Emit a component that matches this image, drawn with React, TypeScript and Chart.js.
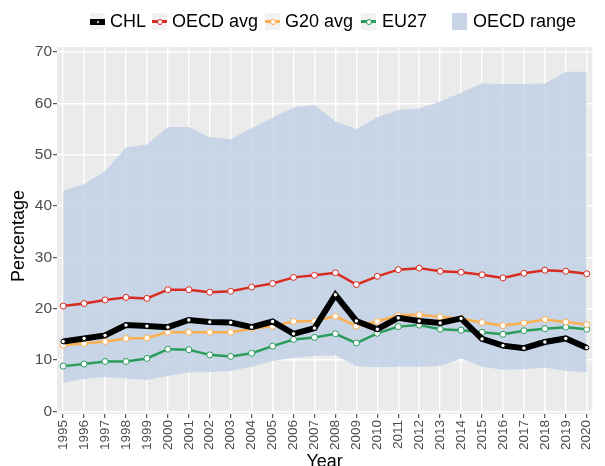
import React, { useEffect, useRef } from "react";
import { Chart, registerables } from "chart.js";

Chart.register(...registerables);

const years = [1995, 1996, 1997, 1998, 1999, 2000, 2001, 2002, 2003, 2004, 2005, 2006, 2007, 2008, 2009, 2010, 2011, 2012, 2013, 2014, 2015, 2016, 2017, 2018, 2019, 2020];
const chl = [13.6, 14.2, 14.8, 16.8, 16.6, 16.4, 17.8, 17.4, 17.3, 16.4, 17.5, 15.1, 16.2, 22.7, 17.6, 16.0, 18.2, 17.6, 17.2, 18.1, 14.1, 12.8, 12.3, 13.5, 14.2, 12.4];
const oecdAvg = [20.5, 21.0, 21.7, 22.2, 22.0, 23.7, 23.7, 23.2, 23.4, 24.2, 24.9, 26.1, 26.5, 27.0, 24.7, 26.3, 27.6, 27.9, 27.3, 27.1, 26.6, 26.0, 26.9, 27.5, 27.3, 26.8];
const g20Avg = [12.9, 13.2, 13.6, 14.2, 14.3, 15.4, 15.4, 15.4, 15.4, 16.1, 16.6, 17.5, 17.6, 18.5, 16.6, 17.5, 18.7, 18.8, 18.4, 18.1, 17.3, 16.7, 17.2, 17.9, 17.4, 16.9];
const eu27 = [8.8, 9.2, 9.7, 9.7, 10.3, 12.1, 12.0, 11.0, 10.7, 11.3, 12.7, 14.0, 14.4, 15.1, 13.3, 15.2, 16.5, 16.8, 16.0, 15.8, 15.4, 15.0, 15.7, 16.1, 16.4, 16.0];
const oecdMin = [5.6, 6.3, 6.7, 6.4, 6.1, 6.9, 7.6, 7.6, 7.9, 8.7, 9.8, 10.4, 10.8, 10.9, 8.8, 8.6, 8.7, 8.7, 8.8, 10.3, 8.7, 8.1, 8.2, 8.5, 7.9, 7.6];
const oecdMax = [43.0, 44.3, 46.8, 51.4, 52.0, 55.4, 55.4, 53.4, 53.0, 55.2, 57.2, 59.2, 59.7, 56.5, 55.0, 57.3, 58.7, 59.0, 60.4, 62.1, 63.9, 63.8, 63.8, 63.9, 66.2, 66.2];
const yTicks = [0, 10, 20, 30, 40, 50, 60, 70];

const seriesLabels = ["CHL", "OECD avg", "G20 avg", "EU27", "OECD range"];
const seriesColors = ["#000000", "#D92B20", "#FBAF4E", "#2A9D5C", "#C8D5E6"];
const xTitle = "Year";
const yTitle = "Percentage";

const FONT = "'Liberation Sans', Arial, Helvetica, sans-serif";

const pts = (vals: number[]) => years.map((x, i) => ({ x, y: vals[i] }));

const panelBg = {
  id: "panelBg",
  beforeDraw(chart: any) {
    const { ctx, chartArea } = chart;
    ctx.save();
    ctx.fillStyle = "#EBEBEB";
    ctx.fillRect(chartArea.left, chartArea.top, chartArea.right - chartArea.left, chartArea.bottom - chartArea.top);
    ctx.restore();
  },
};

const yTitlePlugin = {
  id: "yTitlePlugin",
  afterDraw(chart: any) {
    const { ctx } = chart;
    ctx.save();
    ctx.translate(19, 236);
    ctx.rotate(-Math.PI / 2);
    ctx.textAlign = "center";
    ctx.textBaseline = "middle";
    ctx.fillStyle = "#000000";
    ctx.font = `18px ${FONT}`;
    ctx.fillText(yTitle, 0, 0);
    ctx.restore();
  },
};

function LineKey({ color, thick }: { color: string; thick: boolean }) {
  return (
    <div style={{ position: "relative", width: 15, height: 17, background: "#F2F2F2" }}>
      <div
        style={{
          position: "absolute",
          left: 0,
          right: 0,
          top: thick ? 5.5 : 7.25,
          height: thick ? 6 : 2.5,
          background: color,
        }}
      />
      <div
        style={{
          position: "absolute",
          left: thick ? 5.5 : 4.5,
          top: thick ? 6.5 : 5.5,
          width: thick ? 4 : 6,
          height: thick ? 4 : 6,
          boxSizing: "border-box",
          borderRadius: "50%",
          background: "#FFFFFF",
          border: `1px solid ${color}`,
        }}
      />
    </div>
  );
}

export default function App() {
  const canvasRef = useRef<HTMLCanvasElement | null>(null);

  useEffect(() => {
    if (!canvasRef.current) return;
    const lineDs = (label: string, vals: number[], color: string, width: number, r: number) => ({
      label,
      data: pts(vals),
      borderColor: color,
      backgroundColor: "#FFFFFF",
      borderWidth: width,
      pointRadius: r,
      pointBorderColor: color,
      pointBackgroundColor: "#FFFFFF",
      pointBorderWidth: 1,
      tension: 0,
      fill: false,
    });
    const chart = new Chart(canvasRef.current, {
      type: "line",
      data: {
        datasets: [
          lineDs(seriesLabels[0], chl, seriesColors[0], 6, 2.2),
          lineDs(seriesLabels[1], oecdAvg, seriesColors[1], 2.5, 3),
          lineDs(seriesLabels[2], g20Avg, seriesColors[2], 2.5, 3),
          lineDs(seriesLabels[3], eu27, seriesColors[3], 2.5, 3),
          {
            label: "OECD range max",
            data: pts(oecdMax),
            borderWidth: 0,
            borderColor: "rgba(0,0,0,0)",
            pointRadius: 0,
            backgroundColor: "rgba(191,207,229,0.8)",
            fill: 5,
            tension: 0,
          },
          {
            label: "OECD range min",
            data: pts(oecdMin),
            borderWidth: 0,
            borderColor: "rgba(0,0,0,0)",
            pointRadius: 0,
            fill: false,
            tension: 0,
          },
        ],
      } as any,
      options: {
        animation: false,
        responsive: true,
        maintainAspectRatio: false,
        events: [],
        layout: { padding: { top: 47, right: 0, bottom: 0, left: 0 } },
        font: { family: FONT } as any,
        plugins: {
          legend: { display: false },
          tooltip: { enabled: false },
        },
        scales: {
          x: {
            type: "linear",
            min: 1994.706,
            max: 2020.266,
            afterBuildTicks: (s: any) => {
              s.ticks = years.map((v) => ({ value: v }));
            },
            afterFit: (s: any) => {
              s.height = 52;
            },
            ticks: {
              autoSkip: false,
              minRotation: 90,
              maxRotation: 90,
              padding: 2,
              color: "#4D4D4D",
              font: { family: FONT, size: 13.5 },
              callback: (v: any) => String(v),
            },
            grid: {
              color: "#FFFFFF",
              lineWidth: 1.4,
              drawTicks: true,
              tickLength: 4,
              tickColor: "#333333",
              tickWidth: 1,
            },
            border: { display: false },
            title: {
              display: true,
              text: xTitle,
              color: "#000000",
              font: { family: FONT, size: 18 },
              padding: { top: 0, bottom: -7 },
            },
          },
          y: {
            type: "linear",
            min: -0.53,
            max: 71,
            afterBuildTicks: (s: any) => {
              s.ticks = yTicks.map((v) => ({ value: v }));
            },
            afterFit: (s: any) => {
              s.width = 57;
            },
            ticks: {
              padding: 1,
              color: "#4D4D4D",
              font: { family: FONT, size: 15.5 },
              callback: (v: any) => String(v),
            },
            grid: {
              color: "#FFFFFF",
              lineWidth: 1.4,
              drawTicks: true,
              tickLength: 4,
              tickColor: "#333333",
              tickWidth: 1,
            },
            border: { display: false },
            title: { display: false },
          },
        },
      } as any,
      plugins: [panelBg, yTitlePlugin],
    });
    return () => chart.destroy();
  }, []);

  const keyLefts = [90, 152, 265, 361, 452];
  const textLefts = [110, 172, 285, 382, 473];

  return (
    <div style={{ position: "absolute", left: 0, top: 0, width: 605, height: 466, background: "#FFFFFF", overflow: "hidden", fontFamily: FONT }}>
      <canvas ref={canvasRef} />
      {seriesLabels.map((lab, i) => (
        <React.Fragment key={lab}>
          <div style={{ position: "absolute", left: keyLefts[i], top: 13 }}>
            {i < 4 ? (
              <LineKey color={seriesColors[i]} thick={i === 0} />
            ) : (
              <div style={{ width: 15, height: 17, background: seriesColors[4] }} />
            )}
          </div>
          <div
            style={{
              position: "absolute",
              left: textLefts[i],
              top: 11,
              fontSize: 18,
              lineHeight: "21px",
              color: "#000000",
              whiteSpace: "nowrap",
            }}
          >
            {lab}
          </div>
        </React.Fragment>
      ))}
    </div>
  );
}
